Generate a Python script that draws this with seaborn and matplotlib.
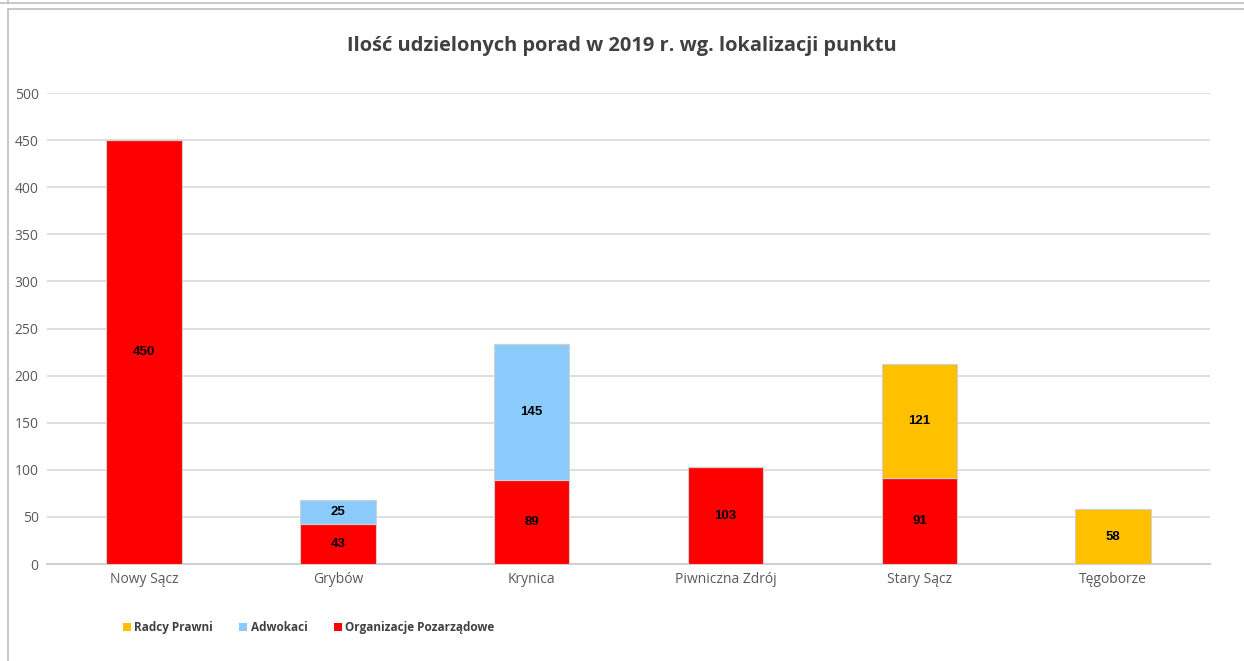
import numpy as np
import pandas as pd
import matplotlib
matplotlib.use("Agg")
import matplotlib.pyplot as plt
from matplotlib.patches import Patch
from matplotlib.lines import Line2D
import seaborn as sns

punkty = ["Nowy Sącz", "Grybów", "Krynica", "Piwniczna Zdrój", "Stary Sącz", "Tęgoborze"]
organizacje = [450, 43, 89, 103, 91, 0]
adwokaci = [0, 25, 145, 0, 0, 0]
radcy = [0, 0, 0, 0, 121, 58]

serie = ["Organizacje Pozarządowe", "Adwokaci", "Radcy Prawni"]
kolory = {"Radcy Prawni": "#FFC000", "Adwokaci": "#8ACBFC", "Organizacje Pozarządowe": "#FF0000"}

df = pd.DataFrame({
    "punkt": punkty * 3,
    "seria": ["Organizacje Pozarządowe"] * 6 + ["Adwokaci"] * 6 + ["Radcy Prawni"] * 6,
    "ilosc": organizacje + adwokaci + radcy,
})

sns.set_theme(style="white")
plt.rcParams['font.family'] = ['Open Sans', 'DejaVu Sans']

fig = plt.figure(figsize=(12.44, 6.61), dpi=100)
ax = fig.add_axes([0.0378, 0.1467, 0.9350, 0.7125])

bottom = np.zeros(len(punkty))
for s in serie:
    d = df[df["seria"] == s]
    vals = d["ilosc"].to_numpy()
    sns.barplot(data=d, x="punkt", y="ilosc", color=kolory[s], saturation=1, width=0.39,
                bottom=bottom, ax=ax, edgecolor="#D0D0D0", linewidth=0.8,
                order=punkty, zorder=3)
    for i, v in enumerate(vals):
        if v > 0:
            ax.text(i, bottom[i] + v / 2, str(v), ha="center", va="center",
                    fontsize=9.5, fontweight="bold", family="Liberation Sans",
                    color="black", zorder=4)
    bottom = bottom + vals

ax.set_ylim(0, 500)
ax.set_xlim(-0.5, len(punkty) - 0.5)
ax.set_yticks(range(0, 501, 50))
ax.yaxis.grid(True, color="#D9D9D9", linewidth=1.2, zorder=0)
ax.set_axisbelow(True)
ax.set_xlabel("")
ax.set_ylabel("")
for sp in ["top", "right", "left"]:
    ax.spines[sp].set_visible(False)
ax.spines["bottom"].set_color("#D0D0D0")
ax.spines["bottom"].set_linewidth(1.5)
ax.tick_params(axis="both", colors="#595959", labelsize=10, length=0, pad=6)

fig.suptitle("Ilość udzielonych porad w 2019 r. wg. lokalizacji punktu",
             x=0.5, y=0.945, fontsize=14.4, fontweight="bold", color="#404040")

handles = [Patch(facecolor=kolory[s], edgecolor="none") for s in ["Radcy Prawni", "Adwokaci", "Organizacje Pozarządowe"]]
leg = fig.legend(handles, ["Radcy Prawni", "Adwokaci", "Organizacje Pozarządowe"],
                 loc="center left", bbox_to_anchor=(0.09, 0.05), ncol=3, frameon=False,
                 handlelength=0.7, handleheight=0.7, handletextpad=0.3, columnspacing=2.2,
                 prop={"weight": "bold", "size": 8.5})
for t in leg.get_texts():
    t.set_color("#404040")

# ramka wykresu
fig.add_artist(Line2D([0, 1], [1 - 3 / 661, 1 - 3 / 661], color="#BFBFBF", linewidth=1.2))
fig.add_artist(Line2D([8 / 1244, 8 / 1244], [1 - 3 / 661, 1], color="#BFBFBF", linewidth=1.2))
fig.add_artist(Line2D([8 / 1244, 1], [1 - 9 / 661, 1 - 9 / 661], color="#BFBFBF", linewidth=1.2))
fig.add_artist(Line2D([8 / 1244, 8 / 1244], [0, 1 - 9 / 661], color="#BFBFBF", linewidth=1.2))

fig.savefig("out.png", dpi=100)
